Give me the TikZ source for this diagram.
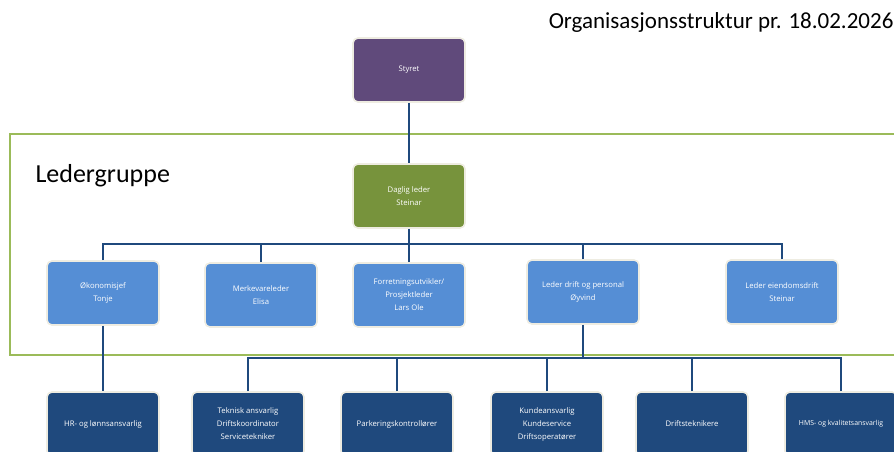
\documentclass[tikz,border=0pt]{standalone}
\usepackage{fontspec}
\setmainfont{Open Sans}
\newfontfamily\headfont{Carlito}
\usepackage{tikz}

\definecolor{StyretPurple}{HTML}{604A7B}
\definecolor{LederGreen}{HTML}{77933C}
\definecolor{MidBlue}{HTML}{558ED5}
\definecolor{DeepBlue}{HTML}{1F497D}
\definecolor{FrameGreen}{HTML}{9BBB59}
\definecolor{BoxRim}{HTML}{EEECE1}

\begin{document}
\begin{tikzpicture}[x=1pt, y=-1pt,
	box/.style={draw=BoxRim, line width=1.6pt, rounded corners=5pt, minimum width=112pt, minimum height=64pt, inner sep=0pt, align=center, text=white, font=\fontsize{7.7}{13}\selectfont},
	link/.style={draw=DeepBlue, line width=2.2pt}]
	\useasboundingbox (0,0) rectangle (894,452);

	% ledergruppe frame
	\draw[draw=FrameGreen, line width=2pt] (10,134) rectangle (910,355);
	\node[font=\headfont\fontsize{26}{30}\selectfont, anchor=west] (gruppe) at (32,176) {Ledergruppe};
	\node[font=\headfont\fontsize{23}{27}\selectfont, anchor=east] (tittel) at (897,22) {Organisasjonsstruktur pr. 18.02.2026};

	% top
	\node[box, fill=StyretPurple] (styret) at (409,70) {Styret};
	\node[box, fill=LederGreen] (daglig) at (409,196) {Daglig leder\\Steinar};

	% ledergruppe
	\node[box, fill=MidBlue] (okonomi) at (103,293) {Økonomisjef\\Tonje};
	\node[box, fill=MidBlue] (merke) at (261,295) {Merkevareleder\\Elisa};
	\node[box, fill=MidBlue] (forretning) at (409,295) {Forretningsutvikler/\\Prosjektleder\\Lars Ole};
	\node[box, fill=MidBlue] (drift) at (583,292) {Leder drift og personal\\Øyvind};
	\node[box, fill=MidBlue] (eiendom) at (782,292) {Leder eiendomsdrift\\Steinar};

	% bottom row
	\node[box, fill=DeepBlue] (hr) at (103,424) {HR- og lønnsansvarlig};
	\node[box, fill=DeepBlue] (teknisk) at (248,424) {Teknisk ansvarlig\\Driftskoordinator\\Servicetekniker};
	\node[box, fill=DeepBlue] (parkering) at (397,424) {Parkeringskontrollører};
	\node[box, fill=DeepBlue] (kunde) at (547,424) {Kundeansvarlig\\Kundeservice\\Driftsoperatører};
	\node[box, fill=DeepBlue] (driftstek) at (692,424) {Driftsteknikere};
	\node[box, fill=DeepBlue, font=\fontsize{6.9}{13}\selectfont] (hms) at (841,424) {HMS- og kvalitetsansvarlig};

	% connectors
	\coordinate (busTop) at (409,244);
	\coordinate (busLow) at (583,358);
	\draw[link] (styret) -- (daglig);
	\draw[link] (daglig) -- (busTop);
	\foreach \n in {okonomi, merke, forretning, drift, eiendom}
		\draw[link] (\n.north) |- (busTop);
	\draw[link] (okonomi) -- (hr);
	\draw[link] (drift) -- (busLow);
	\foreach \n in {teknisk, parkering, kunde, driftstek, hms}
		\draw[link] (\n.north) |- (busLow);
\end{tikzpicture}
\end{document}
